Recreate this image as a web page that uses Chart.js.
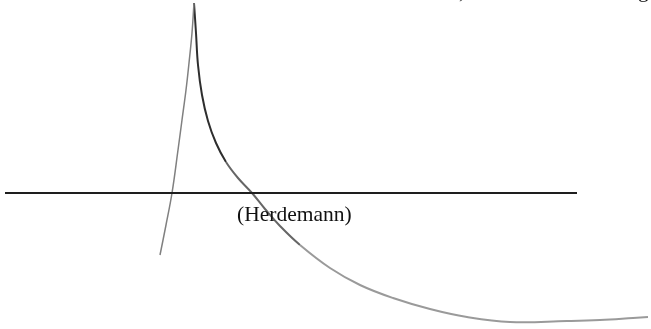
<!DOCTYPE html>
<html lang="en">
<head>
    <meta charset="UTF-8">
    <title>Herdemann curve</title>
    <script src="https://cdn.jsdelivr.net/npm/chart.js"></script>
    <style>
        html, body {
            margin: 0;
            padding: 0;
            background-color: #ffffff;
            overflow: hidden;
        }
        #chart-container {
            width: 651px;
            height: 329px;
        }
    </style>
</head>
<body>

<div id="chart-container">
    <canvas id="curveChart" width="651" height="329"></canvas>
</div>

<script>
// horizontal reference line (value 0)
const baseX = [5, 577];
const baseY = [0, 0];

// rising branch, left of the peak
const riseX = [160, 166, 172, 178, 182, 186, 189, 192, 194];
const riseY = [-62, -32, 0, 43, 73, 103, 130, 160, 190];

// falling branch, from peak to the long tail
const fallX = [194, 196, 198, 202, 208, 216, 226, 238, 252, 265, 280, 300, 330, 360, 393, 430, 467, 510, 567, 600, 633, 648];
const fallY = [190, 160, 128, 98, 72, 50, 31, 15, 0, -16, -33, -52, -75, -92, -105, -116, -124, -129, -128, -127, -125, -124];

// label and clipped text fragments from the page above
const labelText = '(Herdemann)';
const labelPos = [237, -28];
const fragments = [
    { text: ',', x: 459, y: 195 },
    { text: 'g', x: 638, y: 196 }
];

function toPoints(xs, ys) {
    return xs.map((x, i) => ({ x: x, y: ys[i] }));
}

const textPlugin = {
    id: 'textPlugin',
    afterDatasetsDraw(chart) {
        const ctx = chart.ctx;
        const xs = chart.scales.x;
        const ys = chart.scales.y;
        ctx.save();
        ctx.fillStyle = '#111';
        ctx.font = '21.5px "Liberation Serif", "DejaVu Serif", serif';
        ctx.textBaseline = 'alphabetic';
        ctx.textAlign = 'left';
        ctx.fillText(labelText, xs.getPixelForValue(labelPos[0]), ys.getPixelForValue(labelPos[1]));
        fragments.forEach(f => {
            ctx.fillText(f.text, xs.getPixelForValue(f.x), ys.getPixelForValue(f.y));
        });
        ctx.restore();
    }
};

const ctxCurve = document.getElementById('curveChart').getContext('2d');
new Chart(ctxCurve, {
    type: 'scatter',
    data: {
        datasets: [
            {
                label: 'baseline',
                data: toPoints(baseX, baseY),
                showLine: true,
                borderColor: '#1e1e1e',
                borderWidth: 2,
                pointRadius: 0
            },
            {
                label: 'rise',
                data: toPoints(riseX, riseY),
                showLine: true,
                borderColor: '#808080',
                borderWidth: 1.5,
                pointRadius: 0,
                tension: 0.4
            },
            {
                label: 'fall',
                data: toPoints(fallX, fallY),
                showLine: true,
                borderWidth: 2,
                pointRadius: 0,
                tension: 0.4,
                segment: {
                    borderColor: c => c.p0DataIndex < 6 ? '#2e2e2e' : (c.p0DataIndex < 11 ? '#666666' : '#9a9a9a')
                }
            }
        ]
    },
    options: {
        responsive: false,
        animation: false,
        layout: { padding: 0 },
        plugins: {
            legend: { display: false },
            tooltip: { enabled: false }
        },
        scales: {
            x: { type: 'linear', min: 0, max: 651, display: false },
            y: { type: 'linear', min: -136, max: 193, display: false }
        }
    },
    plugins: [textPlugin]
});
</script>

</body>
</html>
